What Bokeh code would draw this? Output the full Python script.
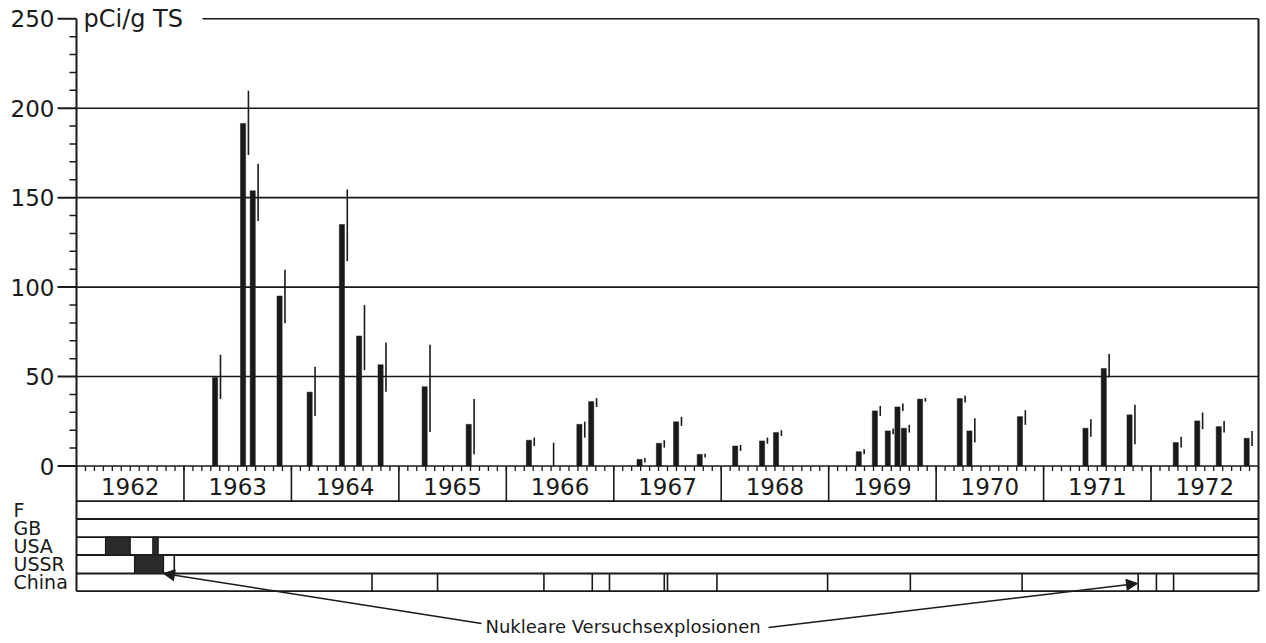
import numpy as np
from bokeh.plotting import figure
from bokeh.models import Range1d, Arrow, NormalHead, ColumnDataSource
from bokeh.transform import dodge
from bokeh.core.properties import value
from bokeh.embed import file_html
from bokeh.resources import INLINE

# ---------------- data ----------------
dates = [1963.29, 1963.55, 1963.64, 1963.89, 1964.17, 1964.47, 1964.63, 1964.83,
         1965.24, 1965.65, 1966.21, 1966.39, 1966.68, 1966.79, 1967.24, 1967.42,
         1967.58, 1967.80, 1968.13, 1968.38, 1968.51, 1969.28, 1969.43, 1969.55,
         1969.64, 1969.70, 1969.85, 1970.22, 1970.31, 1970.78, 1971.39, 1971.56,
         1971.80, 1972.23, 1972.43, 1972.63, 1972.89]
values = [49.5, 191.5, 153.8, 95.0, 41.3, 135.0, 72.7, 56.6,
          44.3, 23.3, 14.4, np.nan, 23.3, 36.0, 3.7, 12.7,
          24.7, 6.5, 11.2, 14.0, 18.7, 8.0, 30.8, 19.6,
          33.0, 21.1, 37.4, 37.7, 19.6, 27.6, 21.1, 54.5,
          28.6, 13.1, 25.2, 22.0, 15.5]
err_lo = [37.4, 173.9, 137.0, 79.8, 28.0, 114.5, 53.6, 41.5,
          19.0, 6.5, 11.2, 0.0, 15.9, 33.0, 1.9, 10.3,
          22.4, 4.7, 8.4, 12.5, 16.8, 6.5, 28.0, 17.7,
          30.8, 18.7, 36.0, 35.5, 13.1, 23.0, 16.3, 49.5,
          12.2, 10.3, 20.6, 18.7, 11.2]
err_hi = [62.2, 209.8, 169.0, 109.7, 55.5, 154.5, 90.0, 69.0,
          67.8, 37.4, 15.9, 13.0, 24.8, 37.9, 4.5, 14.4,
          27.5, 6.9, 11.8, 15.9, 20.0, 9.3, 33.6, 20.9,
          34.9, 23.0, 38.0, 39.2, 26.7, 31.2, 26.2, 62.6,
          34.2, 16.3, 29.9, 25.2, 19.6]

years = list(range(1962, 1973))
year_labels = [str(y) for y in years]
y_ticks = [0, 50, 100, 150, 200, 250]
y_tick_labels = [str(t) for t in y_ticks]
y_minor = [v for v in range(10, 250, 10) if v % 50]
unit_label = "pCi/g TS"

countries = ["F", "GB", "USA", "USSR", "China"]
usa_block_start = [1962.27, 1962.71]
usa_block_end = [1962.50, 1962.76]
ussr_block_start = [1962.54]
ussr_block_end = [1962.81]
ussr_tests = [1962.91]
china_tests = [1964.75, 1965.36, 1966.35, 1966.80, 1966.96, 1967.47, 1967.50,
               1967.96, 1968.99, 1969.76, 1970.80, 1971.88, 1972.05, 1972.21]
note = "Nukleare Versuchsexplosionen"

# ---------------- layout ----------------
INK = "#1a1a1a"
FONT = "DejaVu Sans"
W, H = 1262, 640
AXIS_X = 76.0          # page x of the y axis (start of 1962)
END_X = 1258.0         # page x of end of 1972
ZERO_Y = 465.5         # page y of value 0
PPU = 1.789            # pixels per pCi/g unit
X0, X_END = 1962.0, 1973.0
PPY = (END_X - AXIS_X) / (X_END - X0)
XL = X0 - AXIS_X / PPY
XR = XL + W / PPY
Y_TOP = ZERO_Y / PPU
Y_BOT = Y_TOP - H / PPU


def dx(page_x):
    return X0 + (page_x - AXIS_X) / PPY


def dy(page_y):
    return (ZERO_Y - page_y) / PPU


row_lines = [500.7, 518.5, 536.7, 554.5, 573.0, 590.7]  # page y of table lines
TABLE_BOTTOM = dy(row_lines[-1])

p = figure(width=W, height=H, x_range=Range1d(XL, XR), y_range=Range1d(Y_BOT, Y_TOP),
           x_axis_location=None, y_axis_location=None, toolbar_location=None,
           output_backend="svg", min_border=0, outline_line_color=None,
           background_fill_color="white")
p.xgrid.visible = False
p.ygrid.visible = False

# ---- y axis (drawn) ----
n = len(y_ticks)
p.segment(x0=[X0] * (n - 1), y0=y_ticks[:-1], x1=[X_END] * (n - 1), y1=y_ticks[:-1],
          line_color=INK, line_width=1.6)
p.segment(x0=[dx(202)], y0=[y_ticks[-1]], x1=[X_END], y1=[y_ticks[-1]], line_color=INK, line_width=1.6)
p.segment(x0=[dx(57)] * n, y0=y_ticks, x1=[X0] * n, y1=y_ticks, line_color=INK, line_width=2)
p.segment(x0=[dx(69)] * len(y_minor), y0=y_minor, x1=[X0] * len(y_minor), y1=y_minor,
          line_color=INK, line_width=1.5)
p.text(x=[dx(54)] * n, y=y_ticks, text=y_tick_labels, text_font=value(FONT),
       text_font_size="23px", text_color=INK, text_align="right", text_baseline="middle")
p.segment(x0=[X0, X_END], y0=[y_ticks[-1]] * 2, x1=[X0, X_END], y1=[TABLE_BOTTOM] * 2,
          line_color=INK, line_width=2)
p.text(x=[dx(83)], y=[y_ticks[-1]], text=[unit_label], text_font=value(FONT),
       text_font_size="24px", text_color=INK, text_baseline="middle", text_align="left")

# ---- table ----
for r in row_lines:
    p.segment(x0=[X0], y0=[dy(r)], x1=[X_END], y1=[dy(r)], line_color=INK, line_width=1.8)

p.segment(x0=years[1:], y0=[0] * (len(years) - 1), x1=years[1:], y1=[dy(row_lines[0])] * (len(years) - 1),
          line_color=INK, line_width=1.6)
months = np.arange(X0, X_END + 1e-6, 1 / 12)
p.segment(x0=months, y0=np.zeros_like(months), x1=months, y1=np.full_like(months, dy(ZERO_Y + 5)),
          line_color=INK, line_width=1.3)
p.text(x=[y + 0.5 for y in years], y=[dy(485.5)] * len(years), text=year_labels,
       text_font=value(FONT), text_font_size="23px", text_color=INK,
       text_align="center", text_baseline="middle")

row_centers = [dy((row_lines[i] + row_lines[i + 1]) / 2) for i in range(len(countries))]
p.text(x=[dx(13)] * len(countries), y=row_centers, text=countries, text_font=value(FONT),
       text_font_size="19px", text_color=INK, text_align="left", text_baseline="middle")


def row_span(name):
    i = countries.index(name)
    return dy(row_lines[i + 1]), dy(row_lines[i])


usa_b, usa_t = row_span("USA")
ussr_b, ussr_t = row_span("USSR")
china_b, china_t = row_span("China")

p.quad(left=usa_block_start, right=usa_block_end, bottom=usa_b, top=usa_t,
       fill_color="#2a2a2a", line_color=INK, line_width=1.2)
p.quad(left=ussr_block_start, right=ussr_block_end, bottom=ussr_b, top=ussr_t,
       fill_color="#2a2a2a", line_color=INK, line_width=1.2)
p.segment(x0=ussr_tests, y0=[ussr_b] * len(ussr_tests), x1=ussr_tests, y1=[ussr_t] * len(ussr_tests),
          line_color=INK, line_width=1.6)
p.segment(x0=china_tests, y0=[china_b] * len(china_tests), x1=china_tests, y1=[china_t] * len(china_tests),
          line_color=INK, line_width=1.6)

# ---- data bars and uncertainty lines ----
src = ColumnDataSource(dict(date=dates, value=values, lo=err_lo, hi=err_hi))
p.vbar(x="date", top="value", bottom=0, width=0.048, source=src, fill_color=INK, line_color=INK,
       line_width=0.5)
p.segment(x0=dodge("date", 0.05, range=p.x_range), y0="lo",
          x1=dodge("date", 0.05, range=p.x_range), y1="hi", source=src,
          line_color=INK, line_width=1.6)

# ---- annotation ----
p.text(x=[dx(485)], y=[dy(626)], text=[note], text_font=value(FONT), text_font_size="18px",
       text_color=INK, text_baseline="middle", text_align="left")
p.add_layout(Arrow(x_start=dx(481), y_start=dy(623), x_end=dx(163), y_end=dy(573),
                   line_color=INK, line_width=1.6,
                   end=NormalHead(size=11, fill_color=INK, line_color=INK)))
p.add_layout(Arrow(x_start=dx(768), y_start=dy(627), x_end=dx(1137), y_end=dy(583),
                   line_color=INK, line_width=1.6,
                   end=NormalHead(size=11, fill_color=INK, line_color=INK)))

open("out.html", "w").write(file_html(p, INLINE))
